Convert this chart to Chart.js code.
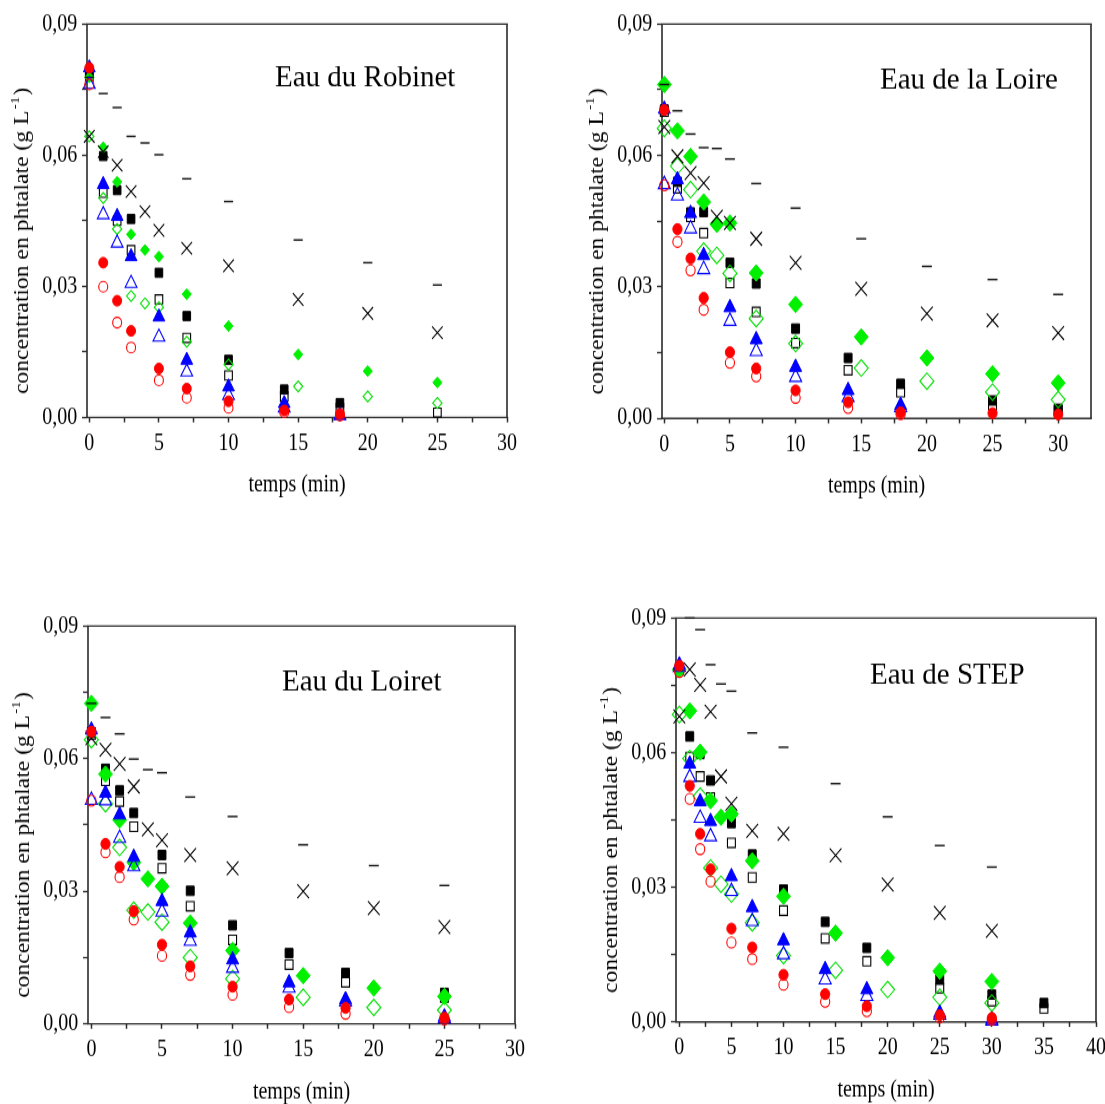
<!DOCTYPE html>
<html lang="fr">
<head>
<meta charset="utf-8">
<title>Concentration en phtalate</title>
<script src="https://cdn.jsdelivr.net/npm/chart.js@4.4.1/dist/chart.umd.min.js"></script>
<style>
  html, body { margin: 0; padding: 0; background: #fff; overflow: hidden; }
  #page { position: relative; width: 1105px; height: 1104px; overflow: hidden; }
  #page canvas { position: absolute; }
</style>
</head>
<body>
<div id="page">
  <canvas id="robinet"></canvas>
  <canvas id="loire"></canvas>
  <canvas id="loiret"></canvas>
  <canvas id="step"></canvas>
</div>
<script>
// Eau du Robinet
const robinetTemps1 = [0, 1, 2, 3, 5, 7, 10, 14, 18, 25];
const robinetTemps2 = [0, 1, 2, 3, 4, 5, 7, 10, 15, 20, 25];
const robinetCarrePlein = [0.0790, 0.0598, 0.0520, 0.0454, 0.0331, 0.0232, 0.0132, 0.0064, 0.0033, null];
const robinetCarreVide = [0.0780, 0.0514, 0.0450, 0.0383, 0.0270, 0.0182, 0.0096, 0.0048, 0.0022, 0.0011];
const robinetRondPlein = [0.0800, 0.0354, 0.0267, 0.0198, 0.0112, 0.0066, 0.0037, 0.0016, 0.0008, null];
const robinetRondVide = [0.0762, 0.0299, 0.0217, 0.0160, 0.0085, 0.0045, 0.0022, 0.0012, 0.0004, null];
const robinetTriPlein = [0.0800, 0.0533, 0.0460, 0.0368, 0.0230, 0.0131, 0.0070, 0.0032, 0.0005, null];
const robinetTriVide = [0.0762, 0.0464, 0.0399, 0.0307, 0.0184, 0.0104, 0.0050, 0.0022, 0.0004, null];
const robinetLosPlein = [0.0778, 0.0618, 0.0539, 0.0419, 0.0383, 0.0368, 0.0282, 0.0209, 0.0144, 0.0106, 0.0080];
const robinetLosVide = [0.0643, 0.0502, 0.0431, 0.0278, 0.0261, 0.0252, 0.0173, 0.0121, 0.0071, 0.0048, 0.0033];
const robinetCroix = [0.0643, 0.0608, 0.0577, 0.0517, 0.0471, 0.0428, 0.0387, 0.0347, 0.0270, 0.0238, 0.0194];
const robinetTiret = [0.0778, 0.0741, 0.0709, 0.0643, 0.0628, 0.0601, 0.0546, 0.0494, 0.0406, 0.0354, 0.0303];

// Eau de la Loire
const loireTemps1 = [0, 1, 2, 3, 5, 7, 10, 14, 18, 25, 30];
const loireTemps2 = [0, 1, 2, 3, 4, 5, 7, 10, 15, 20, 25, 30];
const loireCarrePlein = [0.0705, 0.0540, 0.0470, 0.0471, 0.0355, 0.0308, 0.0205, 0.0138, 0.0079, 0.0041, 0.0022];
const loireCarreVide = [0.0700, 0.0525, 0.0460, 0.0423, 0.0309, 0.0243, 0.0172, 0.0110, 0.0060, 0.0030, 0.0018];
const loireRondPlein = [0.0704, 0.0432, 0.0365, 0.0275, 0.0151, 0.0114, 0.0064, 0.0037, 0.0014, 0.0012, 0.0009];
const loireRondVide = [0.0532, 0.0403, 0.0338, 0.0248, 0.0127, 0.0096, 0.0047, 0.0024, 0.0010, null, null];
const loireTriPlein = [0.0706, 0.0545, 0.0468, 0.0372, 0.0253, 0.0180, 0.0117, 0.0064, 0.0030, null, null];
const loireTriVide = [0.0534, 0.0508, 0.0433, 0.0340, 0.0222, 0.0153, 0.0094, 0.0048, 0.0025, null, null];
const loireLosPlein = [0.0762, 0.0656, 0.0598, 0.0494, 0.0443, 0.0446, 0.0332, 0.0260, 0.0186, 0.0138, 0.0102, 0.0081];
const loireLosVide = [0.0662, 0.0576, 0.0522, 0.0382, 0.0372, 0.0331, 0.0228, 0.0171, 0.0115, 0.0085, 0.0060, 0.0043];
const loireCroix = [0.0665, 0.0598, 0.0560, 0.0537, 0.0460, 0.0446, 0.0410, 0.0355, 0.0296, 0.0239, 0.0224, 0.0195];
const loireTiret = [0.0762, 0.0702, 0.0649, 0.0618, 0.0616, 0.0592, 0.0536, 0.0480, 0.0410, 0.0347, 0.0317, 0.0283];

// Eau du Loiret
const loiretTemps1 = [0, 1, 2, 3, 5, 7, 10, 14, 18, 25];
const loiretTemps2 = [0, 1, 2, 3, 4, 5, 7, 10, 15, 20, 25];
const loiretCarrePlein = [0.0660, 0.0577, 0.0528, 0.0477, 0.0382, 0.0301, 0.0223, 0.0160, 0.0115, 0.0070];
const loiretCarreVide = [0.0655, 0.0550, 0.0503, 0.0446, 0.0352, 0.0266, 0.0190, 0.0134, 0.0094, 0.0060];
const loiretRondPlein = [0.0661, 0.0407, 0.0355, 0.0255, 0.0179, 0.0130, 0.0084, 0.0055, 0.0036, 0.0014];
const loiretRondVide = [0.0505, 0.0388, 0.0332, 0.0236, 0.0154, 0.0111, 0.0066, 0.0038, 0.0023, 0.0010];
const loiretTriPlein = [0.0665, 0.0522, 0.0473, 0.0377, 0.0277, 0.0206, 0.0145, 0.0093, 0.0055, 0.0016];
const loiretTriVide = [0.0506, 0.0505, 0.0420, 0.0356, 0.0253, 0.0187, 0.0126, 0.0081, 0.0050, 0.0012];
const loiretLosPlein = [0.0725, 0.0565, 0.0461, 0.0365, 0.0328, 0.0311, 0.0228, 0.0166, 0.0109, 0.0081, 0.0062];
const loiretLosVide = [0.0643, 0.0498, 0.0399, 0.0257, 0.0253, 0.0230, 0.0150, 0.0102, 0.0060, 0.0037, 0.0031];
const loiretCroix = [0.0646, 0.0620, 0.0588, 0.0537, 0.0440, 0.0415, 0.0382, 0.0352, 0.0300, 0.0262, 0.0219];
const loiretTiret = [0.0725, 0.0693, 0.0656, 0.0599, 0.0575, 0.0568, 0.0513, 0.0469, 0.0405, 0.0358, 0.0313];

// Eau de STEP
const stepTemps1 = [0, 1, 2, 3, 5, 7, 10, 14, 18, 25, 30, 35];
const stepTemps2 = [0, 1, 2, 3, 4, 5, 7, 10, 15, 20, 25, 30];
const stepCarrePlein = [0.0790, 0.0636, 0.0597, 0.0538, 0.0443, 0.0373, 0.0295, 0.0223, 0.0165, 0.0094, 0.0061, 0.0042];
const stepCarreVide = [0.0785, 0.0590, 0.0547, 0.0500, 0.0399, 0.0322, 0.0248, 0.0186, 0.0135, 0.0075, 0.0046, 0.0030];
const stepRondPlein = [0.0794, 0.0526, 0.0419, 0.0340, 0.0208, 0.0166, 0.0105, 0.0062, 0.0035, 0.0015, 0.0009, null];
const stepRondVide = [0.0780, 0.0497, 0.0385, 0.0313, 0.0177, 0.0140, 0.0083, 0.0045, 0.0024, 0.0010, 0.0005, null];
const stepTriPlein = [0.0796, 0.0575, 0.0491, 0.0447, 0.0324, 0.0255, 0.0181, 0.0117, 0.0072, 0.0020, 0.0005, null];
const stepTriVide = [0.0790, 0.0545, 0.0454, 0.0413, 0.0291, 0.0224, 0.0150, 0.0094, 0.0057, 0.0015, 0.0002, null];
const stepLosPlein = [0.0785, 0.0693, 0.0601, 0.0493, 0.0456, 0.0463, 0.0359, 0.0280, 0.0198, 0.0143, 0.0113, 0.0090];
const stepLosVide = [0.0685, 0.0587, 0.0503, 0.0343, 0.0307, 0.0285, 0.0221, 0.0148, 0.0115, 0.0072, 0.0055, 0.0042];
const stepCroix = [0.0681, 0.0785, 0.0751, 0.0691, 0.0547, 0.0486, 0.0426, 0.0419, 0.0371, 0.0306, 0.0243, 0.0203];
const stepTiret = [0.0785, 0.0900, 0.0874, 0.0796, 0.0753, 0.0737, 0.0644, 0.0612, 0.0531, 0.0457, 0.0393, 0.0345];

// Graduations
const ticksY = [0, 0.015, 0.03, 0.045, 0.06, 0.075, 0.09];
const etiquettesY = ['0,00', '', '0,03', '', '0,06', '', '0,09'];
const ticksX30 = [0, 2.5, 5, 7.5, 10, 12.5, 15, 17.5, 20, 22.5, 25, 27.5, 30];
const etiquettesX30 = ['0', '', '5', '', '10', '', '15', '', '20', '', '25', '', '30'];
const ticksX40 = [0, 2.5, 5, 7.5, 10, 12.5, 15, 17.5, 20, 22.5, 25, 27.5, 30, 32.5, 35, 37.5, 40];
const etiquettesX40 = ['0', '', '5', '', '10', '', '15', '', '20', '', '25', '', '30', '', '35', '', '40'];

const POLICE = "'Liberation Serif', 'Times New Roman', serif";
const S = 1.18; // l'image d'origine est étirée verticalement

// du dessus vers le dessous (le jeu 0 est dessiné en dernier)
const ordre = ['rondPlein', 'rondVide', 'triPlein', 'triVide', 'tiret', 'croix', 'losPlein', 'losVide', 'carrePlein', 'carreVide'];
const styles = {
    rondPlein:  { forme: 'circle',   fond: '#ff0000', trait: '#ff0000', ep: 1, temps: 1 },
    rondVide:   { forme: 'circle',   fond: 'rgba(0,0,0,0)', trait: '#ff0000', ep: 1.1, temps: 1 },
    triPlein:   { forme: 'triangle', fond: '#0000ff', trait: '#0000ff', ep: 1, temps: 1 },
    triVide:    { forme: 'triangle', fond: 'rgba(0,0,0,0)', trait: '#0000ff', ep: 1.1, temps: 1 },
    tiret:      { forme: 'line',     fond: '#111111', trait: '#111111', ep: 1.4, temps: 2 },
    croix:      { forme: 'crossRot', fond: '#000000', trait: '#000000', ep: 1.1, temps: 2 },
    losPlein:   { forme: 'rectRot',  fond: '#00f000', trait: '#00f000', ep: 1, temps: 2 },
    losVide:    { forme: 'rectRot',  fond: 'rgba(0,0,0,0)', trait: '#00e000', ep: 1.1, temps: 2 },
    carrePlein: { forme: 'rect',     fond: '#000000', trait: '#000000', ep: 1, temps: 1 },
    carreVide:  { forme: 'rect',     fond: 'rgba(0,0,0,0)', trait: '#000000', ep: 1.1, temps: 1 }
};
const taillesPetites = { circle: 4.5, triangle: 6.8, line: 4.6, crossRot: 7.5, rectRot: 4.6, rect: 5.4 };
const taillesGrandes = { circle: 4.6, triangle: 7.0, line: 5, crossRot: 8.3, rectRot: 7, rect: 5.6 };

const panneaux = [
    { id: 'robinet', titre: 'Eau du Robinet', cadre: [87, 24, 507, 417], xMin: -0.165, xMax: 30,
      ticksX: ticksX30, etiquettesX: etiquettesX30, posTitre: [188, 62.7], tailles: taillesPetites,
      temps1: robinetTemps1, temps2: robinetTemps2,
      series: { carrePlein: robinetCarrePlein, carreVide: robinetCarreVide, rondPlein: robinetRondPlein, rondVide: robinetRondVide,
                triPlein: robinetTriPlein, triVide: robinetTriVide, losPlein: robinetLosPlein, losVide: robinetLosVide,
                croix: robinetCroix, tiret: robinetTiret } },
    { id: 'loire', titre: 'Eau de la Loire', cadre: [662, 24, 1091, 418], xMin: -0.175, xMax: 32.5,
      ticksX: ticksX30, etiquettesX: etiquettesX30, posTitre: [218, 64.3], tailles: taillesGrandes,
      temps1: loireTemps1, temps2: loireTemps2,
      series: { carrePlein: loireCarrePlein, carreVide: loireCarreVide, rondPlein: loireRondPlein, rondVide: loireRondVide,
                triPlein: loireTriPlein, triVide: loireTriVide, losPlein: loireLosPlein, losVide: loireLosVide,
                croix: loireCroix, tiret: loireTiret } },
    { id: 'loiret', titre: 'Eau du Loiret', cadre: [88, 626, 515, 1024], xMin: -0.24, xMax: 30,
      ticksX: ticksX30, etiquettesX: etiquettesX30, posTitre: [194, 65], tailles: taillesGrandes,
      temps1: loiretTemps1, temps2: loiretTemps2,
      series: { carrePlein: loiretCarrePlein, carreVide: loiretCarreVide, rondPlein: loiretRondPlein, rondVide: loiretRondVide,
                triPlein: loiretTriPlein, triVide: loiretTriVide, losPlein: loiretLosPlein, losVide: loiretLosVide,
                croix: loiretCroix, tiret: loiretTiret } },
    { id: 'step', titre: 'Eau de STEP', cadre: [676, 618, 1096, 1022], xMin: -0.32, xMax: 40,
      ticksX: ticksX40, etiquettesX: etiquettesX40, posTitre: [194, 66], tailles: taillesGrandes,
      temps1: stepTemps1, temps2: stepTemps2,
      series: { carrePlein: stepCarrePlein, carreVide: stepCarreVide, rondPlein: stepRondPlein, rondVide: stepRondVide,
                triPlein: stepTriPlein, triVide: stepTriVide, losPlein: stepLosPlein, losVide: stepLosVide,
                croix: stepCroix, tiret: stepTiret } }
];

// cadre fermé autour de la zone de tracé
const cadre = {
    id: 'cadre',
    beforeDatasetsDraw(chart) {
        const { ctx, chartArea: a } = chart;
        ctx.save();
        ctx.strokeStyle = '#2b2b2b';
        ctx.lineWidth = 1.6;
        ctx.beginPath();
        ctx.moveTo(a.left, a.top); ctx.lineTo(a.left, a.bottom);
        ctx.moveTo(a.right, a.top); ctx.lineTo(a.right, a.bottom);
        ctx.stroke();
        ctx.lineWidth = 1.6 / S;
        ctx.beginPath();
        ctx.moveTo(a.left - 0.8, a.top); ctx.lineTo(a.right + 0.8, a.top);
        ctx.moveTo(a.left - 0.8, a.bottom); ctx.lineTo(a.right + 0.8, a.bottom);
        ctx.stroke();
        ctx.restore();
    }
};

// titre de l'axe y avec l'exposant, et nom de l'eau dans le cadre
const textes = {
    id: 'textes',
    afterDraw(chart, args, opts) {
        const { ctx, chartArea: a } = chart;
        const base = 'concentration en phtalate (g L';
        ctx.save();
        ctx.fillStyle = '#000';
        ctx.font = '20px ' + POLICE;
        const w1 = ctx.measureText(base).width;
        const w3 = ctx.measureText(')').width;
        ctx.font = '13px ' + POLICE;
        const w2 = ctx.measureText('-1').width + 2;
        ctx.translate(a.left - 64, (a.top + a.bottom) / 2 + 20 / S);
        ctx.rotate(-Math.PI / 2);
        ctx.textBaseline = 'middle';
        ctx.textAlign = 'left';
        let x = -(w1 + w2 + w3) / 2;
        ctx.font = '20px ' + POLICE;
        ctx.fillText(base, x, 0);
        x += w1;
        ctx.font = '13px ' + POLICE;
        ctx.fillText('-1', x + 1, -7);
        x += w2;
        ctx.font = '20px ' + POLICE;
        ctx.fillText(')', x, 0);
        ctx.restore();

        ctx.save();
        ctx.fillStyle = '#000';
        ctx.translate(a.left + opts.dx, a.top + opts.dy / S);
        ctx.scale(1, 1 / S);
        ctx.font = '29px ' + POLICE;
        ctx.textBaseline = 'alphabetic';
        ctx.textAlign = 'left';
        ctx.fillText(opts.texte, 0, 0);
        ctx.restore();
    }
};

function jeuxDeDonnees(p) {
    return ordre.map(nom => {
        const st = styles[nom];
        const temps = st.temps === 1 ? p.temps1 : p.temps2;
        const valeurs = p.series[nom];
        const points = temps.map((t, i) => ({ x: t, y: valeurs[i] })).filter(pt => pt.y !== null);
        return {
            label: nom,
            data: points,
            showLine: false,
            clip: false,
            pointStyle: st.forme,
            pointRadius: p.tailles[st.forme],
            pointHoverRadius: p.tailles[st.forme],
            pointBackgroundColor: st.fond,
            pointBorderColor: st.trait,
            pointBorderWidth: st.ep
        };
    });
}

function tracer(p) {
    const canvas = document.getElementById(p.id);
    const [g, h, d, b] = p.cadre;
    const largeur = 87 + (d - g) + 30;
    const hInt = Math.round((24 + (b - h) + 84) / S);
    canvas.width = largeur;
    canvas.height = hInt;
    canvas.style.left = (g - 87) + 'px';
    canvas.style.top = (h - 24) + 'px';
    canvas.style.width = largeur + 'px';
    canvas.style.height = (hInt * S) + 'px';

    const basZone = (24 + (b - h)) / S;
    const hAxeX = hInt - basZone;
    const padTitreX = hInt - (basZone + 68 / S) - 10;

    new Chart(canvas.getContext('2d'), {
        type: 'scatter',
        data: { datasets: jeuxDeDonnees(p) },
        options: {
            responsive: false,
            devicePixelRatio: 1,
            animation: false,
            events: [],
            layout: { padding: { left: 0, top: 24 / S, right: 30, bottom: 0 } },
            plugins: {
                legend: { display: false },
                tooltip: { enabled: false },
                textes: { texte: p.titre, dx: p.posTitre[0], dy: p.posTitre[1] }
            },
            scales: {
                x: {
                    type: 'linear',
                    min: p.xMin,
                    max: p.xMax,
                    afterBuildTicks: s => { s.ticks = p.ticksX.map(v => ({ value: v })); },
                    afterFit: s => { s.height = hAxeX; },
                    ticks: {
                        autoSkip: false, maxRotation: 0, padding: 6, color: '#000',
                        font: { family: POLICE, size: 20 },
                        callback: (v, i) => p.etiquettesX[i]
                    },
                    grid: { display: true, drawOnChartArea: false, drawTicks: true, tickLength: 4.2, tickWidth: 1.5, tickColor: '#2b2b2b' },
                    border: { display: false },
                    title: {
                        display: true, text: 'temps (min)', color: '#000',
                        font: { family: POLICE, size: 20, lineHeight: 1 },
                        padding: { top: 0, bottom: padTitreX }
                    }
                },
                y: {
                    type: 'linear',
                    min: 0,
                    max: 0.09,
                    afterBuildTicks: s => { s.ticks = ticksY.map(v => ({ value: v })); },
                    afterFit: s => { s.width = 87; },
                    ticks: {
                        autoSkip: false, padding: 4.7, color: '#000',
                        font: { family: POLICE, size: 20 },
                        callback: (v, i) => etiquettesY[i]
                    },
                    grid: { display: true, drawOnChartArea: false, drawTicks: true, tickLength: 5, tickWidth: 1.3, tickColor: '#2b2b2b' },
                    border: { display: false }
                }
            }
        },
        plugins: [cadre, textes]
    });
}

panneaux.forEach(tracer);
</script>
</body>
</html>
